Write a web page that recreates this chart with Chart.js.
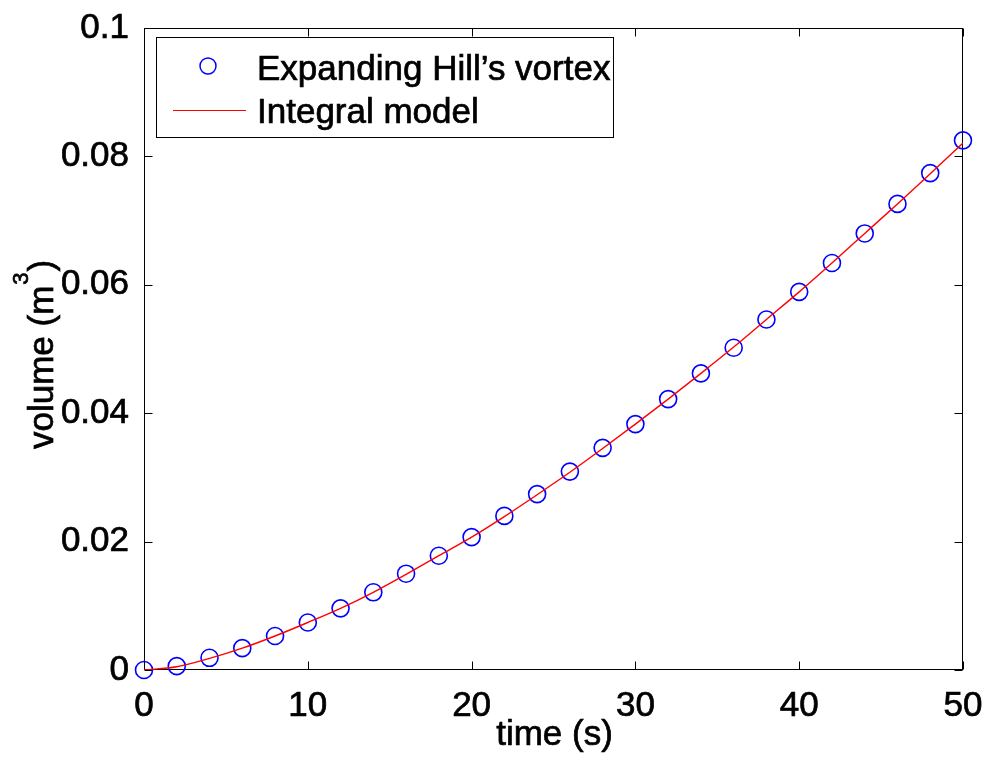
<!DOCTYPE html>
<html>
<head>
<meta charset="utf-8">
<title>Vortex volume</title>
<script src="https://cdn.jsdelivr.net/npm/chart.js@4.4.1/dist/chart.umd.min.js"></script>
<style>
  html, body { margin: 0; padding: 0; background: #fff; }
  canvas { display: block; }
</style>
</head>
<body>
<canvas id="volume-chart" width="992" height="762"></canvas>
<script>
// time samples (s)
const timeSeconds = [0, 2, 4, 6, 8, 10, 12, 14, 16, 18, 20, 22, 24, 26, 28, 30, 32, 34, 36, 38, 40, 42, 44, 46, 48, 50];
// expanding Hill's vortex volume (m^3)
const vortexVolume = [0, 0.0006, 0.0019, 0.0034, 0.0053, 0.0074, 0.0096, 0.0121, 0.0150, 0.0178,
  0.0207, 0.0240, 0.0274, 0.0309, 0.0346, 0.0383, 0.0422, 0.0462, 0.0502, 0.0546,
  0.0589, 0.0634, 0.0680, 0.0726, 0.0774, 0.0825];
// integral model volume (m^3)
const modelVolume = [0, 0.0005, 0.0018, 0.0034, 0.0053, 0.0074, 0.0096, 0.0121, 0.0149, 0.0178,
  0.0207, 0.0239, 0.0273, 0.0308, 0.0345, 0.0383, 0.0422, 0.0462, 0.0503, 0.0546,
  0.0589, 0.0634, 0.0680, 0.0726, 0.0773, 0.0821];
const xTickValues = [0, 10, 20, 30, 40, 50];
const yTickValues = [0, 0.02, 0.04, 0.06, 0.08, 0.1];
const yTickLabels = ["0", "0.02", "0.04", "0.06", "0.08", "0.1"];
const xTitle = "time (s)";
const yTitle = ["volume (m", "3", ")"];

const fontFamily = "'Liberation Sans', Arial, Helvetica, sans-serif";
const tickFont = { family: fontFamily, size: 35, lineHeight: 1.2 };
const textWeight = 0.7; // thin outline so text reads a bit heavier

function heavyText(ctx, str, x, y) {
    ctx.fillText(str, x, y);
    ctx.strokeText(str, x, y);
}

// Box around the axes with inward ticks on all four sides
const axesFrame = {
    id: "axesFrame",
    beforeDatasetsDraw(chart) {
        const { ctx, chartArea: a, scales } = chart;
        const l = Math.round(a.left) + 0.5, r = Math.round(a.right) - 0.5;
        const t = Math.round(a.top) + 0.5, b = Math.round(a.bottom) - 0.5;
        ctx.save();
        ctx.strokeStyle = "#000";
        ctx.lineWidth = 1;
        ctx.strokeRect(l, t, r - l, b - t);
        ctx.beginPath();
        xTickValues.forEach(v => {
            const x = Math.round(scales.x.getPixelForValue(v)) + 0.5;
            ctx.moveTo(x, b); ctx.lineTo(x, b - 8);
            ctx.moveTo(x, t); ctx.lineTo(x, t + 8);
        });
        yTickValues.forEach(v => {
            const y = Math.round(scales.y.getPixelForValue(v)) + 0.5;
            ctx.moveTo(l, y); ctx.lineTo(l + 8, y);
            ctx.moveTo(r, y); ctx.lineTo(r - 8, y);
        });
        ctx.stroke();

        // axis titles, the y one with a raised exponent
        ctx.fillStyle = "#000";
        ctx.lineWidth = textWeight;
        ctx.textBaseline = "alphabetic";
        ctx.font = "35px " + fontFamily;
        ctx.textAlign = "center";
        heavyText(ctx, xTitle, (a.left + a.right) / 2 + 1, 745);

        ctx.textAlign = "left";
        ctx.translate(53, 449);
        ctx.rotate(-Math.PI / 2);
        let pos = 0;
        heavyText(ctx, yTitle[0], pos, 0);
        pos += ctx.measureText(yTitle[0]).width + 1;
        ctx.font = "22px " + fontFamily;
        heavyText(ctx, yTitle[1], pos, -25);
        pos += ctx.measureText(yTitle[1]).width + 1;
        ctx.font = "35px " + fontFamily;
        heavyText(ctx, yTitle[2], pos, 0);
        ctx.restore();
    }
};

// Boxed legend in the upper left corner of the axes
const boxLegend = {
    id: "boxLegend",
    afterDraw(chart) {
        const { ctx } = chart;
        const sets = chart.data.datasets;
        ctx.save();
        ctx.fillStyle = "#fff";
        ctx.fillRect(156.5, 37.5, 457, 100);
        ctx.strokeStyle = "#000";
        ctx.lineWidth = 1;
        ctx.strokeRect(156.5, 37.5, 457, 100);

        // marker entry
        ctx.strokeStyle = sets[0].borderColor;
        ctx.lineWidth = 1.5;
        ctx.beginPath();
        ctx.arc(208, 66, 8, 0, Math.PI * 2);
        ctx.stroke();

        // line entry
        ctx.strokeStyle = sets[1].borderColor;
        ctx.lineWidth = 1.2;
        ctx.beginPath();
        ctx.moveTo(173, 110.5);
        ctx.lineTo(246, 110.5);
        ctx.stroke();

        ctx.fillStyle = "#000";
        ctx.strokeStyle = "#000";
        ctx.lineWidth = textWeight;
        ctx.font = "35px " + fontFamily;
        ctx.textBaseline = "alphabetic";
        heavyText(ctx, sets[0].label, 257, 80);
        heavyText(ctx, sets[1].label, 257, 123);
        ctx.restore();
    }
};

new Chart(document.getElementById("volume-chart"), {
    type: "scatter",
    data: {
        datasets: [{
            label: "Expanding Hill\u2019s vortex",
            data: timeSeconds.map((t, i) => ({ x: t, y: vortexVolume[i] })),
            showLine: false,
            pointStyle: "circle",
            pointRadius: 8.5,
            pointBorderWidth: 1.6,
            borderColor: "#0000ff",
            backgroundColor: "rgba(0,0,0,0)",
            clip: false,
            order: 1
        }, {
            label: "Integral model",
            data: timeSeconds.map((t, i) => ({ x: t, y: modelVolume[i] })),
            showLine: true,
            pointRadius: 0,
            borderColor: "#ff0000",
            borderWidth: 1.4,
            cubicInterpolationMode: "monotone",
            order: 0
        }]
    },
    options: {
        responsive: false,
        animation: false,
        devicePixelRatio: 1,
        layout: { padding: { left: 0, right: 29, top: 23, bottom: 0 } },
        plugins: {
            legend: { display: false },
            tooltip: { enabled: false }
        },
        scales: {
            x: {
                type: "linear",
                min: 0,
                max: 50,
                afterBuildTicks: scale => { scale.ticks = xTickValues.map(v => ({ value: v })); },
                afterFit: scale => { scale.height = 92; },
                grid: { display: false },
                border: { display: false },
                ticks: {
                    color: "#000",
                    font: tickFont,
                    padding: 7,
                    maxRotation: 0,
                    textStrokeColor: "#000",
                    textStrokeWidth: textWeight
                }
            },
            y: {
                type: "linear",
                min: 0,
                max: 0.1,
                afterBuildTicks: scale => { scale.ticks = yTickValues.map(v => ({ value: v })); },
                afterFit: scale => { scale.width = 144; },
                grid: { display: false },
                border: { display: false },
                ticks: {
                    color: "#000",
                    font: tickFont,
                    padding: 7,
                    textStrokeColor: "#000",
                    textStrokeWidth: textWeight,
                    callback: v => yTickLabels[yTickValues.indexOf(v)]
                }
            }
        }
    },
    plugins: [axesFrame, boxLegend]
});
</script>
</body>
</html>
